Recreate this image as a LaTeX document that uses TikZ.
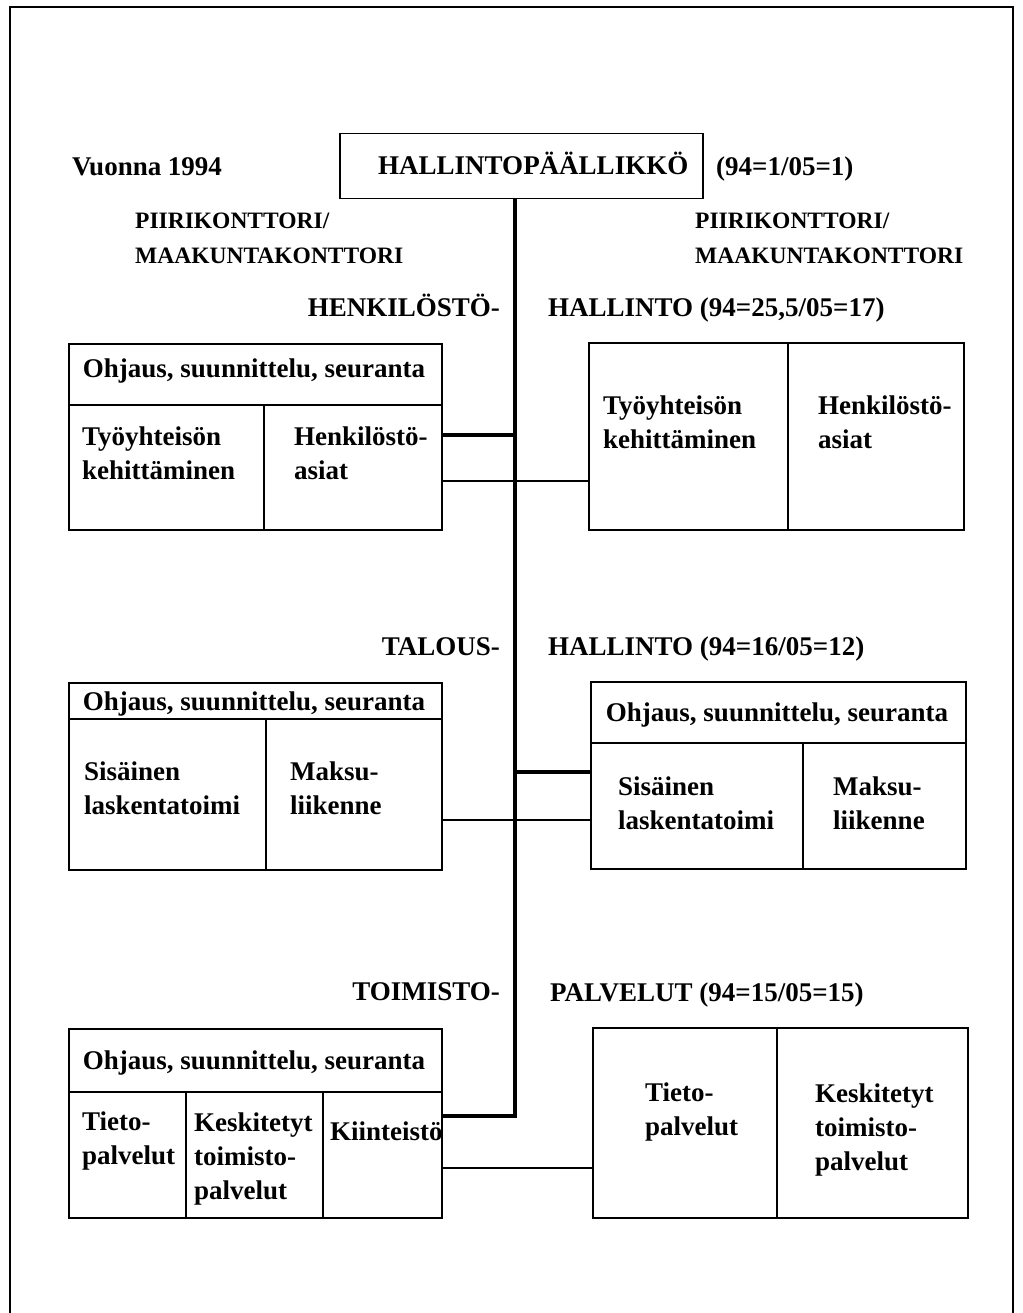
\documentclass[tikz,border=0pt]{standalone}
\usepackage{fontspec}
\setmainfont{Liberation Serif}
\usepackage{tikz}

\begin{document}
\begin{tikzpicture}[x=1pt, y=-1pt,
	box/.style={draw, line width=1.5pt, inner sep=0pt, anchor=north west},
	rule/.style={line width=1.5pt},
	txt/.style={anchor=west, inner sep=0pt, align=left, font=\fontsize{27}{34}\selectfont\bfseries},
	small/.style={anchor=west, inner sep=0pt, align=left, font=\fontsize{23.5}{35}\selectfont\bfseries},
	thin/.style={line width=1.2pt},
	thickline/.style={line width=4.8pt}]
	\useasboundingbox (0,0) rectangle (1022,1313);
	\draw [line width=2pt] (10,1313) -- (10,7) -- (1013,7) -- (1013,1313);

	\node[box, minimum width=363pt, minimum height=65pt] (chief) at (339,133) {};
	\node[txt] (chieft) at (378,163) {HALLINTOPÄÄLLIKKÖ};
	\node[txt] (chiefn) at (716,169) {(94=1/05=1)};
	\node[txt] (year) at (72,167) {Vuonna 1994};
	\node[small] (lpiiri) at (135,238) {PIIRIKONTTORI/\\MAAKUNTAKONTTORI};
	\node[small] (rpiiri) at (695,238) {PIIRIKONTTORI/\\MAAKUNTAKONTTORI};

	\node[txt, anchor=east] (henl) at (500,305) {HENKILÖSTÖ-};
	\node[txt] (henr) at (548,310) {HALLINTO (94=25,5/05=17)};
	\node[txt, anchor=east] (tall) at (500,647) {TALOUS-};
	\node[txt] (talr) at (548,649) {HALLINTO (94=16/05=12)};
	\node[txt, anchor=east] (toil) at (500,992) {TOIMISTO-};
	\node[txt] (toir) at (550,995) {PALVELUT (94=15/05=15)};

	\node[box, minimum width=373pt, minimum height=186pt] (l1) at (68,343) {};
	\node[box, minimum width=375pt, minimum height=187pt] (r1) at (588,342) {};
	\node[box, minimum width=373pt, minimum height=187pt] (l2) at (68,682) {};
	\node[box, minimum width=375pt, minimum height=187pt] (r2) at (590,681) {};
	\node[box, minimum width=373pt, minimum height=189pt] (l3) at (68,1028) {};
	\node[box, minimum width=375pt, minimum height=190pt] (r3) at (592,1027) {};

	\draw[rule] (l1.west |- 0,405) -- (l1.east |- 0,405);
	\draw[rule] (264,405) -- (l1.south -| 264,0);
	\draw[rule] (r1.north -| 788,0) -- (r1.south -| 788,0);
	\draw[rule] (l2.west |- 0,719) -- (l2.east |- 0,719);
	\draw[rule] (266,719) -- (l2.south -| 266,0);
	\draw[rule] (r2.west |- 0,743) -- (r2.east |- 0,743);
	\draw[rule] (803,743) -- (r2.south -| 803,0);
	\draw[rule] (l3.west |- 0,1092) -- (l3.east |- 0,1092);
	\draw[rule] (186,1092) -- (l3.south -| 186,0);
	\draw[rule] (323,1092) -- (l3.south -| 323,0);
	\draw[rule] (r3.north -| 777,0) -- (r3.south -| 777,0);

	\node[txt, anchor=center] (l1h) at (254,371) {Ohjaus, suunnittelu, seuranta};
	\node[txt] (l1a) at (82,453) {Työyhteisön\\kehittäminen};
	\node[txt] (l1b) at (294,453) {Henkilöstö-\\asiat};
	\node[txt] (r1a) at (603,422) {Työyhteisön\\kehittäminen};
	\node[txt] (r1b) at (818,422) {Henkilöstö-\\asiat};

	\node[txt, anchor=center] (l2h) at (254,704) {Ohjaus, suunnittelu, seuranta};
	\node[txt] (l2a) at (84,788) {Sisäinen\\laskentatoimi};
	\node[txt] (l2b) at (290,788) {Maksu-\\liikenne};
	\node[txt, anchor=center] (r2h) at (777,715) {Ohjaus, suunnittelu, seuranta};
	\node[txt] (r2a) at (618,803) {Sisäinen\\laskentatoimi};
	\node[txt] (r2b) at (833,803) {Maksu-\\liikenne};

	\node[txt, anchor=center] (l3h) at (254,1063) {Ohjaus, suunnittelu, seuranta};
	\node[txt] (l3a) at (82,1141) {Tieto-\\palvelut};
	\node[txt] (l3b) at (194,1159) {Keskitetyt\\toimisto-\\palvelut};
	\node[txt] (l3c) at (330,1131) {Kiinteistö};
	\node[txt] (r3a) at (645,1112) {Tieto-\\palvelut};
	\node[txt] (r3b) at (815,1130) {Keskitetyt\\toimisto-\\palvelut};

	\coordinate (spine) at (515,0);
	\draw[thickline] (chief.south -| spine) |- (l3.east |- 0,1116);
	\draw[thickline] (l1.east |- 0,435) -- (spine |- 0,435);
	\draw[thin] (l1.east |- 0,481) -- (r1.west |- 0,481);
	\draw[thickline] (spine |- 0,772) -- (r2.west |- 0,772);
	\draw[thin] (l2.east |- 0,820) -- (r2.west |- 0,820);
	\draw[thin] (l3.east |- 0,1168) -- (r3.west |- 0,1168);
\end{tikzpicture}
\end{document}
